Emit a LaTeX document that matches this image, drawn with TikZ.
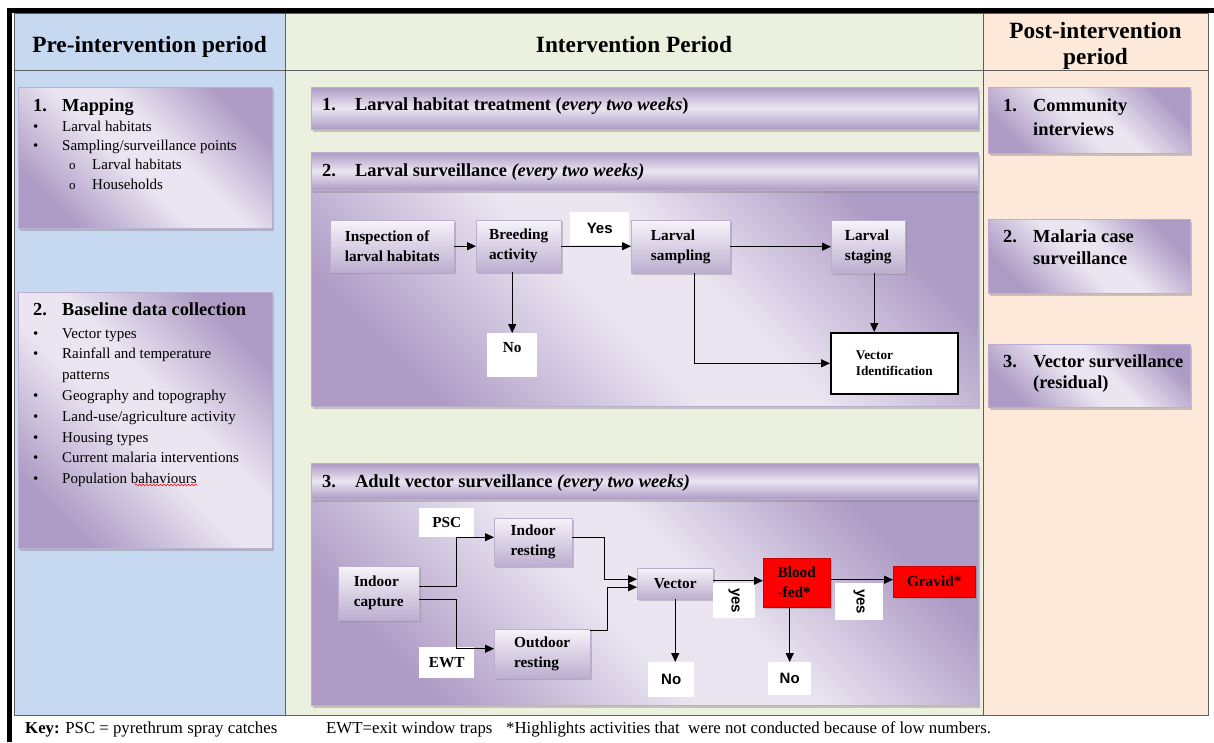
\documentclass[tikz,border=0pt]{standalone}
\usepackage{fontspec}
\setmainfont{Liberation Serif}
\setsansfont{Liberation Sans}
\usetikzlibrary{shadows}
\usetikzlibrary{arrows.meta}
\usetikzlibrary{decorations.pathmorphing}
\definecolor{preblue}{HTML}{C6D9F1}
\definecolor{intgreen}{HTML}{EBF1DE}
\definecolor{postpeach}{HTML}{FDE9D9}
\definecolor{pdark}{HTML}{AE9BC5}
\definecolor{plight}{HTML}{EAE5F1}
\definecolor{pedge}{HTML}{BCAED0}
\definecolor{tblgray}{HTML}{5E5E5E}
\pgfdeclarehorizontalshading{purpdiag}{100bp}{color(0bp)=(pdark); color(25bp)=(pdark); color(46bp)=(plight); color(56bp)=(plight); color(75bp)=(pdark); color(100bp)=(pdark)}
\newcommand{\hdfont}{\fontsize{23.3}{27}\selectfont\bfseries}
\newcommand{\ttlfont}{\fontsize{18.4}{24}\selectfont\bfseries}
\newcommand{\flwfont}{\fontsize{15.3}{20}\selectfont\bfseries}
\newcommand{\yesfont}{\fontsize{15}{18}\selectfont\sffamily\bfseries}
\newcommand{\keyfont}{\fontsize{16.8}{20}\selectfont}
\newcommand{\rows}[1]{\begin{tabular}[t]{@{}l@{}}#1\end{tabular}}
\newcommand{\blt}{\hspace*{3pt}\makebox[29pt][l]{\textbullet}}
\newcommand{\sblt}{\hspace*{39pt}\makebox[23pt][l]{\fontsize{13}{13}\selectfont o}}
\tikzset{x=1pt, y=-1pt,
cell/.style={ % table cells
draw=tblgray, line width=0.8pt, inner sep=0pt, anchor=north west},
pbox/.style={ % purple gradient boxes
draw=pedge, shade, shading=purpdiag, shading angle=45, inner sep=0pt,
anchor=north west, drop shadow={shadow xshift=1.5pt, shadow yshift=-2.5pt, opacity=0.4}},
pbar/.style={pbox, top color=pdark, bottom color=pdark, middle color=plight},
fbox/.style={ % flow steps
draw=pedge, top color=plight!45!white, bottom color=pdark!75!plight, inner sep=0pt,
anchor=north west, align=left, font=\flwfont,
drop shadow={shadow xshift=1.5pt, shadow yshift=-2pt, opacity=0.4}},
wbox/.style={fill=white, inner sep=0pt, anchor=north west, font=\flwfont},
redbox/.style={fbox, top color=red, bottom color=red, draw=red!80!black},
vidbox/.style={draw=black, line width=1.6pt, fill=white, inner sep=0pt,
anchor=north west, align=left, font=\fontsize{13.3}{16}\selectfont\bfseries},
flow/.style={-{Triangle[length=9pt,width=8pt]}, line width=1.1pt}, % arrows
txt/.style={anchor=base west, inner sep=0pt},
hdtxt/.style={anchor=base, inner sep=0pt, font=\hdfont}}
\begin{document}
\begin{tikzpicture}
\useasboundingbox (0,0) rectangle (1214,742);
\fill[white] (0,0) rectangle (1214,742);
% table
\node[cell, fill=preblue, minimum width=271pt, minimum height=57pt] (prehd) at (14,13) {};
\node[cell, fill=intgreen, minimum width=698pt, minimum height=57pt] (inthd) at (285,13) {};
\node[cell, fill=postpeach, minimum width=225pt, minimum height=57pt] (posthd) at (983,13) {};
\node[hdtxt] (pretxt) at (149.5,52) {Pre-intervention period};
\node[hdtxt] (inttxt) at (634,52) {Intervention Period};
\node[hdtxt] (posttxt) at (1095.5,38) {Post-intervention};
\node[hdtxt] (posttxtb) at (1095.5,64) {period};
\node[cell, fill=preblue, minimum width=271pt, minimum height=645pt] (prebody) at (14,70) {};
\node[cell, fill=intgreen, minimum width=698pt, minimum height=645pt] (intbody) at (285,70) {};
\node[cell, fill=postpeach, minimum width=225pt, minimum height=645pt] (postbody) at (983,70) {};
\draw[line width=5pt] (9.5,742) -- (9.5,10.5) -- (1214,10.5);
% pre-intervention
\node[pbox, minimum width=254pt, minimum height=141pt] (mapbox) at (18,87) {};
\node[txt, font=\ttlfont] (maptitle) at (33,111) {\makebox[29pt][l]{1.}Mapping};
\node[txt, font=\fontsize{15}{19.4}\selectfont] (mapitems) at (30,131) {\rows{\blt Larval habitats\\ \blt Sampling/surveillance points\\ \sblt Larval habitats\\ \sblt Households}};
\node[pbox, minimum width=254pt, minimum height=256pt] (basebox) at (18,292) {};
\node[txt, font=\ttlfont] (basetitle) at (33,315) {\makebox[29pt][l]{2.}Baseline data collection};
\node[txt, font=\fontsize{15}{20.8}\selectfont] (baseitems) at (30,338) {\rows{\blt Vector types\\ \blt Rainfall and temperature\\ \hspace*{32pt}patterns\\ \blt Geography and topography\\ \blt Land-use/agriculture activity\\ \blt Housing types\\ \blt Current malaria interventions\\ \blt Population bahaviours}};
\draw[red, line width=0.6pt, decorate, decoration={snake, amplitude=0.9pt, segment length=3.5pt}] (135,485) -- (197,485);
% intervention
\node[pbar, minimum width=667pt, minimum height=42pt] (treatbar) at (311,87) {};
\node[txt, font=\ttlfont] (treattxt) at (322,110) {\makebox[33pt][l]{1.}Larval habitat treatment (\textit{every two weeks})};
\node[pbox, minimum width=667pt, minimum height=216pt] (larvbody) at (311,190) {};
\node[pbar, minimum width=667pt, minimum height=38pt] (larvhd) at (311,152) {};
\node[txt, font=\ttlfont] (larvtxt) at (322,176) {\makebox[33pt][l]{2.}Larval surveillance \textit{(every two weeks)}};
\node[pbox, minimum width=667pt, minimum height=206pt] (adultbody) at (311,499) {};
\node[pbar, minimum width=667pt, minimum height=36pt] (adulthd) at (311,463) {};
\node[txt, font=\ttlfont] (adulttxt) at (322,487) {\makebox[33pt][l]{3.}Adult vector surveillance \textit{(every two weeks)}};
% larval flow
\node[fbox, minimum width=124pt, minimum height=52pt] (insp) at (330,220) {Inspection of\\larval habitats};
\node[fbox, minimum width=85pt, minimum height=52pt] (breed) at (476,220) {Breeding\\activity};
\node[wbox, font=\yesfont, minimum width=59pt, minimum height=33pt] (lyes) at (570,212) {Yes};
\node[fbox, minimum width=99pt, minimum height=53pt] (lsamp) at (631,220) {Larval\\sampling};
\node[fbox, minimum width=74pt, minimum height=53pt] (lstage) at (831,220) {Larval\\staging};
\node[wbox, minimum width=50pt, minimum height=44pt, text depth=15pt] (lno) at (487,333) {No};
\node[vidbox, minimum width=127pt, minimum height=61pt] (vid) at (830,332) {Vector\\Identification};
\draw[flow] (insp) -- (breed);
\draw[flow] (breed.east) -- (breed.east -| lsamp.west);
\draw[flow] (lsamp.east) -- (lsamp.east -| lstage.west);
\draw[flow] (lno.north |- breed.south) -- (lno.north);
\draw[flow] ([xshift=6pt]lstage.south) -- ([xshift=6pt]lstage.south |- vid.north);
\draw[flow] ([xshift=14pt]lsamp.south) |- (vid.west);
% adult flow
\node[wbox, minimum width=55pt, minimum height=29pt] (psc) at (419,508) {PSC};
\node[fbox, minimum width=78pt, minimum height=48pt] (inrest) at (494,518) {Indoor\\resting};
\node[fbox, minimum width=81pt, minimum height=54pt] (incap) at (338,566) {Indoor\\capture};
\node[fbox, minimum width=96pt, minimum height=49pt] (outrest) at (494,629) {Outdoor\\resting};
\node[wbox, minimum width=55pt, minimum height=31pt] (ewt) at (419,647) {EWT};
\node[fbox, minimum width=76pt, minimum height=31pt] (vec) at (637,568) {Vector};
\node[wbox, font=\yesfont, minimum width=42pt, minimum height=35pt] (vyes) at (713,583) {\rotatebox{-90}{yes}};
\node[redbox, minimum width=67pt, minimum height=49pt] (bfed) at (763,558) {Blood\\-fed*};
\node[wbox, font=\yesfont, minimum width=48pt, minimum height=37pt] (fyes) at (835,583) {\rotatebox{-90}{yes}};
\node[redbox, minimum width=82pt, minimum height=31pt] (grav) at (893,566) {Gravid*};
\node[wbox, font=\yesfont, minimum width=46pt, minimum height=35pt] (vno) at (648,662) {No};
\node[wbox, font=\yesfont, minimum width=43pt, minimum height=33pt] (bno) at (768,662) {No};
\draw[flow] ([yshift=7pt]incap.east) -- ++(37,0) |- ([yshift=5pt]inrest.west);
\draw[flow] ([yshift=-6pt]incap.east) -- ++(37,0) |- ([yshift=5pt]outrest.west);
\draw[flow] ([yshift=5pt]inrest.east) -- ++(32,0) |- ([yshift=4.5pt]vec.west);
\draw[flow] ([yshift=23pt]outrest.east) -- ++(17,0) |- ([yshift=-3.5pt]vec.west);
\draw[flow] ([yshift=3pt]vec.east) -- ([yshift=3pt]vec.east -| bfed.west);
\draw[flow] ([yshift=2pt]grav.west -| bfed.east) -- ([yshift=2pt]grav.west);
\draw[flow] (vec.south) -- (vec.south |- vno.north);
\draw[flow] (bno.north |- bfed.south) -- (bno.north);
% post-intervention
\node[pbox, minimum width=202pt, minimum height=66pt] (commbox) at (988,87) {};
\node[txt, font=\ttlfont] (commtxt) at (1003,111) {\rows{\makebox[30pt][l]{1.}Community\\ \hspace*{30pt}interviews}};
\node[pbox, minimum width=202pt, minimum height=74pt] (malbox) at (988,219) {};
\node[txt, font=\fontsize{18.4}{22}\selectfont\bfseries] (maltxt) at (1003,242) {\rows{\makebox[30pt][l]{2.}Malaria case\\ \hspace*{30pt}surveillance}};
\node[pbox, minimum width=202pt, minimum height=63pt] (vsbox) at (988,344) {};
\node[txt, font=\fontsize{18.4}{21}\selectfont\bfseries] (vstxt) at (1003,367) {\rows{\makebox[30pt][l]{3.}Vector surveillance\\ \hspace*{30pt}(residual)}};
% key
\node[txt, font=\keyfont] (keypsc) at (25,733) {\textbf{Key:} PSC = pyrethrum spray catches};
\node[txt, font=\keyfont] (keyewt) at (326,733) {EWT=exit window traps};
\node[txt, font=\keyfont] (keyhl) at (506,733) {*Highlights activities that\ \ were not conducted because of low numbers.};
\end{tikzpicture}
\end{document}
